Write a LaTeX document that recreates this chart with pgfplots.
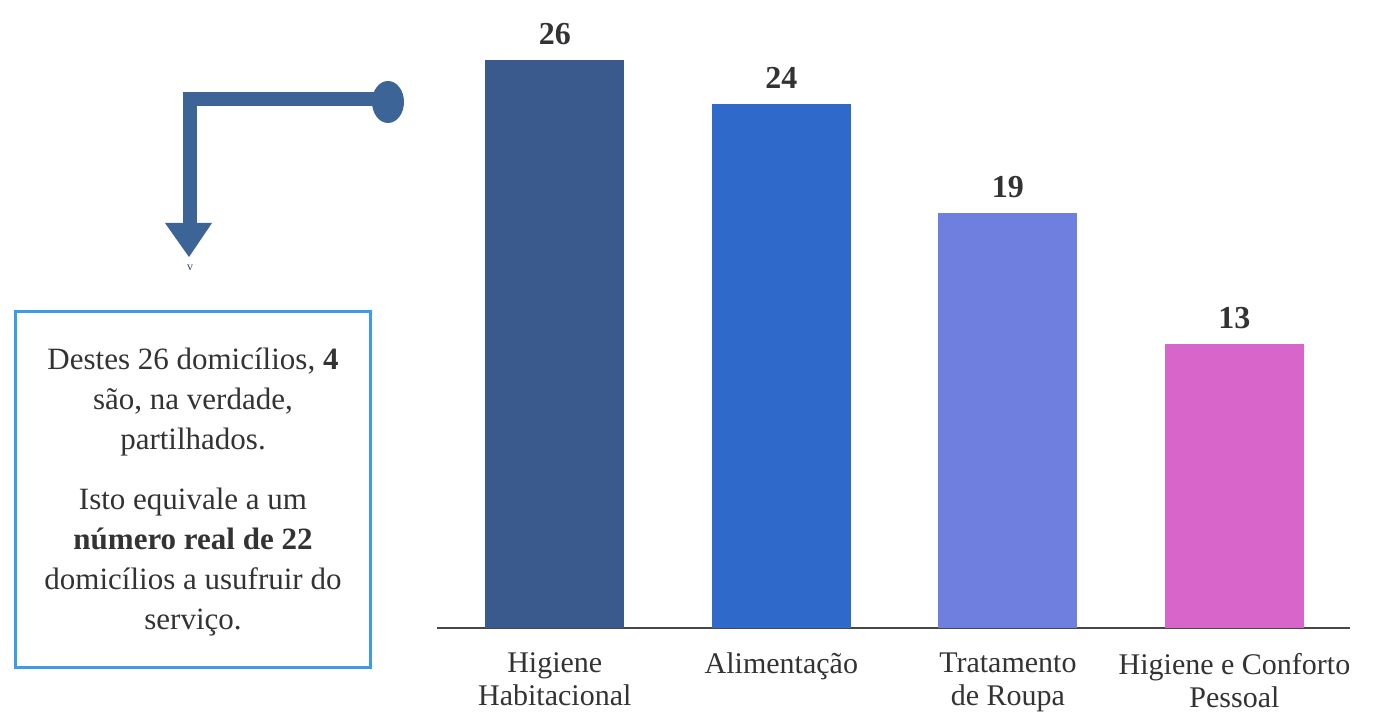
\documentclass[border=0pt]{standalone}
\usepackage{fontspec}
\setmainfont{Liberation Serif}
\usepackage{pgfplots}
\pgfplotsset{compat=1.18}

\definecolor{barA}{HTML}{3A5A8E}
\definecolor{barB}{HTML}{2F6ACB}
\definecolor{barC}{HTML}{6E7FE0}
\definecolor{barD}{HTML}{D865CA}
\definecolor{txt}{HTML}{333333}
\definecolor{boxblue}{HTML}{3D9BE9}
\definecolor{arrowblue}{HTML}{3C6496}

\begin{document}
\begin{tikzpicture}
\useasboundingbox (0,0) rectangle (688.5pt,356pt);

\begin{axis}[
  at={(218.5pt,42pt)}, anchor=south west,
  scale only axis,
  width=456.5pt, height=284pt,
  xmin=-0.52, xmax=3.51,
  ymin=0, ymax=26,
  axis x line*=bottom,
  axis y line=none,
  x axis line style={draw=txt!90, line width=1pt, -},
  xtick={0,1,2,3},
  xticklabels={{Higiene\\Habitacional},{Alimentação},{Tratamento\\de Roupa},{Higiene e Conforto\\Pessoal}},
  major tick length=0pt,
  xticklabel style={align=center, font=\fontsize{15}{16.5}\selectfont, text=txt, yshift=-9pt},
  /pgf/number format/assume math mode=true,
  nodes near coords,
  nodes near coords style={font=\fontsize{16}{18}\selectfont\bfseries, text=txt, anchor=south, yshift=4pt},
  bar width=69.5pt,
  ybar, bar shift=0pt,
  clip=false,
]
\addplot[fill=barA, draw=none] coordinates {(0,26)};
\addplot[fill=barB, draw=none] coordinates {(1,24)};
\addplot[fill=barC, draw=none] coordinates {(2,19)};
\addplot[fill=barD, draw=none] coordinates {(3,13)};
\end{axis}

% connector from the first bar to the note
\draw[arrowblue, line width=7pt, line join=miter] (194pt,306.5pt) -- (95pt,306.5pt) -- (95pt,244.5pt);
\fill[arrowblue] (194pt,305pt) ellipse [x radius=8pt, y radius=10.5pt];
\fill[arrowblue] (82.5pt,244.5pt) -- (106pt,244.5pt) -- (94.5pt,227.5pt) -- cycle;
\node[font=\fontsize{6}{6}\selectfont, text=arrowblue!70!black] at (95pt,222pt) {v};

% note box
\draw[boxblue, line width=1.5pt] (7.5pt,22pt) rectangle (185pt,200pt);
\node[anchor=north, align=center, inner sep=0pt, text=txt,
      font=\fontsize{15.5}{20}\selectfont] at (96.5pt,182pt)
  {Destes 26 domicílios, \textbf{4}\\ são, na verdade,\\ partilhados.\\[10pt]
   Isto equivale a um\\ \textbf{número real de 22}\\ domicílios a usufruir do\\ serviço.};
\end{tikzpicture}
\end{document}
